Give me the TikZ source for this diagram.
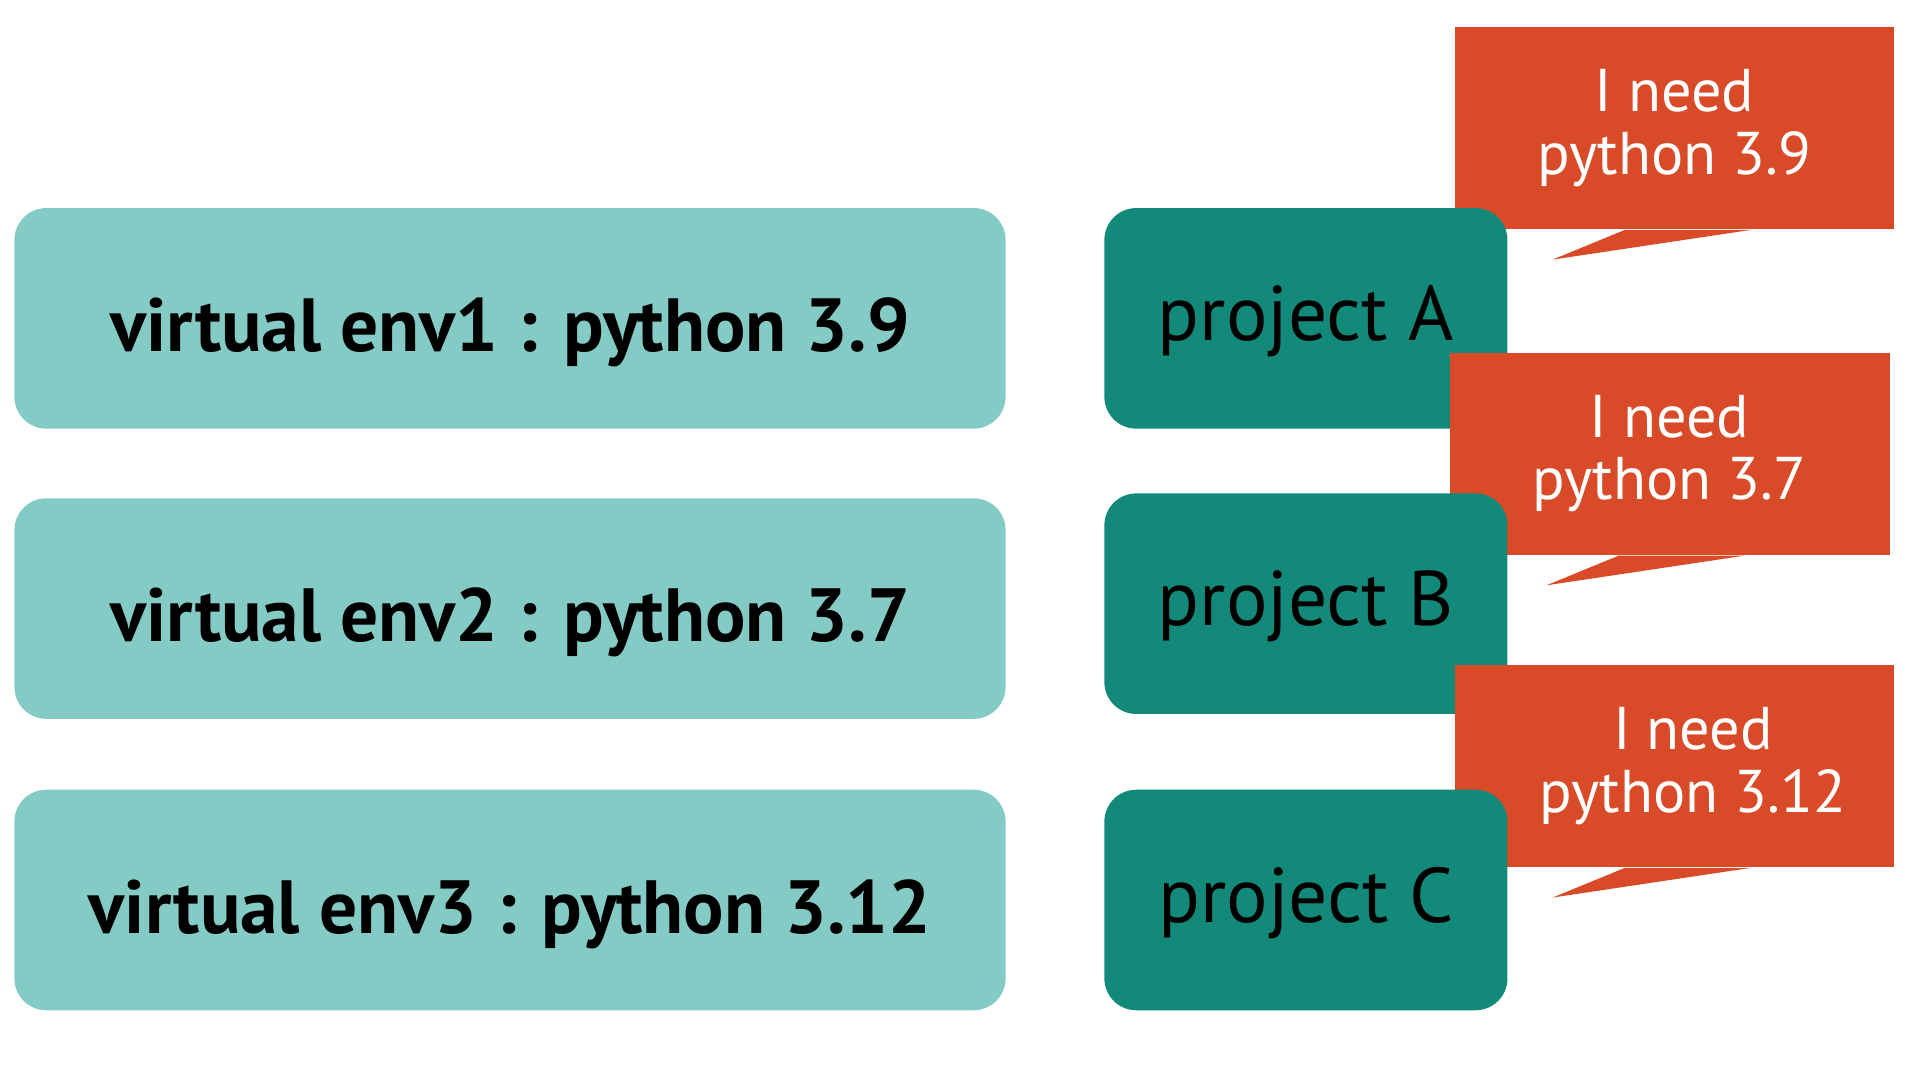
\documentclass[tikz,border=0pt]{standalone}
\usepackage{fontspec}
\setmainfont{PT Sans}
\definecolor{envcol}{HTML}{84CBC5}
\definecolor{projcol}{HTML}{13897A}
\definecolor{callcol}{HTML}{D94A28}
\begin{document}
\begin{tikzpicture}[x=0.01cm,y=-0.01cm,
  envbox/.style={fill=envcol, rounded corners=0.26cm, minimum width=8.09cm, minimum height=1.8cm, inner sep=0pt, text height=0.54cm, text depth=0cm, font=\bfseries\fontsize{17.5}{21}\selectfont},
  projbox/.style={fill=projcol, rounded corners=0.26cm, minimum width=3.29cm, minimum height=1.8cm, inner sep=0pt, text height=0.36cm, text depth=0cm, font=\fontsize{18}{21}\selectfont},
  callbox/.style={fill=callcol, minimum width=3.59cm, minimum height=1.65cm, inner sep=0pt, text=white, align=center, font=\fontsize{14}{14.5}\selectfont}]
\useasboundingbox (0,0) rectangle (1568,882);
% env boxes
\node[envbox] (e1) at (416.5,260) {virtual env1 : python 3.9};
\node[envbox] (e2) at (416.5,497) {virtual env2 : python 3.7};
\node[envbox] (e3) at (416.5,735) {virtual env3 : python 3.12};
% callout 1
\node[callbox] (c1) at (1367.5,104.5) {I need\\python 3.9};
\coordinate (t1) at (1268,212);
\fill[callcol] ([xshift=-0.405cm]c1.south) -- (t1) -- ([xshift=0.625cm]c1.south) -- cycle;
\node[projbox] (pA) at (1066.5,260) {project A};
% callout 2
\node[callbox] (c2) at (1363.5,370.5) {I need\\python 3.7};
\coordinate (t2) at (1263,478);
\fill[callcol] ([xshift=-0.415cm]c2.south) -- (t2) -- ([xshift=0.615cm]c2.south) -- cycle;
\node[projbox] (pB) at (1066.5,493) {project B};
% callout 3
\node[callbox] (c3) at (1367.5,625.5) {\hspace*{0.3cm}I need\\\hspace*{0.3cm}python 3.12};
\coordinate (t3) at (1268,733);
\fill[callcol] ([xshift=-0.405cm]c3.south) -- (t3) -- ([xshift=0.625cm]c3.south) -- cycle;
\node[projbox] (pC) at (1066.5,735) {project C};
\end{tikzpicture}
\end{document}
